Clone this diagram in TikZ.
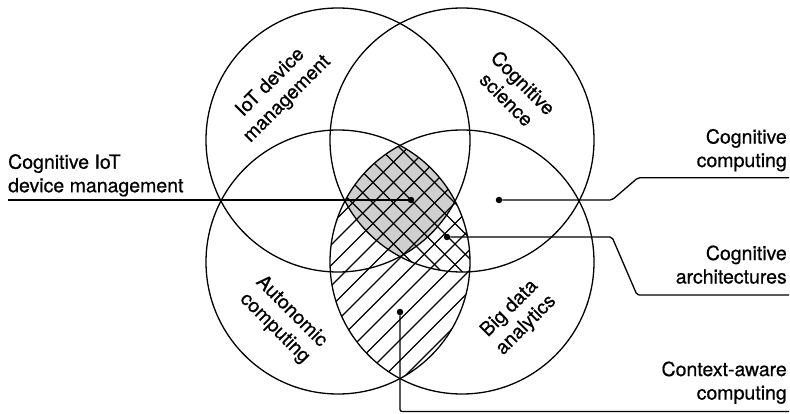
\documentclass[tikz,border=0pt]{standalone}
\usepackage{fontspec}
\setmainfont{TeX Gyre Heros}[FakeBold=0.6]
\begin{document}
\begin{tikzpicture}[x=1pt,y=1pt,
  ring/.style={line width=1.3pt},
  hatch/.style={line width=1.2pt},
  lead/.style={line width=1.3pt,rounded corners=2pt},
  dot/.style={circle,fill,inner sep=0pt,minimum size=6.5pt},
  tag/.style={font=\fontsize{19.5}{23.5}\selectfont,inner sep=0pt}]
\useasboundingbox (0,0) rectangle (790,413);
\def\rad{132}
\coordinate (tl) at (338,273);
\coordinate (tr) at (462,273);
\coordinate (bl) at (338,151);
\coordinate (br) at (462,151);

% grey core: inside all four
\begin{scope}
\clip (tl) circle (\rad);
\clip (tr) circle (\rad);
\clip (bl) circle (\rad);
\fill[black!19] (br) circle (\rad);
\end{scope}

% / lines: lower lens
\begin{scope}
\clip (bl) circle (\rad);
\clip (br) circle (\rad);
\foreach \k in {0,...,21}
  \draw[hatch] (40+\k*20.5,0) -- ++(420,420);
\end{scope}

% \ lines: three circles
\begin{scope}
\clip (tr) circle (\rad);
\clip (bl) circle (\rad);
\clip (br) circle (\rad);
\foreach \k in {0,...,15}
  \draw[hatch] (460+\k*20.5,0) -- ++(-420,420);
\end{scope}

\draw[ring] (tl) circle (\rad);
\draw[ring] (tr) circle (\rad);
\draw[ring] (bl) circle (\rad);
\draw[ring] (br) circle (\rad);

\node[tag,rotate=45,align=center] (iotLbl) at (279,322) {IoT device\\management};
\node[tag,rotate=-45,align=center] (sciLbl) at (515,322) {Cognitive\\science};
\node[tag,rotate=-45,align=center] (autoLbl) at (283,93) {Autonomic\\computing};
\node[tag,rotate=45,align=center] (bigLbl) at (518,96) {Big data\\analytics};

% leaders
\node[dot] (iot) at (411,213) {};
\node[dot] (comp) at (499,213) {};
\node[dot] (arch) at (447,176) {};
\node[dot] (ctx) at (400,101) {};
\coordinate (iotEnd) at (8,213);
\coordinate (compEnd) at (789,235.3);
\coordinate (archEnd) at (789,118);
\coordinate (ctxEnd) at (789,1.5);
\draw[lead] (iot) -- (iotEnd);
\draw[lead] (comp) -- (612,213) -- (638,235.3) -- (compEnd);
\draw[lead] (arch) -- (612,176) -- (637,118) -- (archEnd);
\draw[lead] (ctx) -- (400,1.5) -- (ctxEnd);

\node[tag,anchor=south west,align=left] (iotTag) at (8,216.3) {Cognitive IoT\\device management};
\node[tag,anchor=south east,align=right] (compTag) at (787,241.5) {Cognitive\\computing};
\node[tag,anchor=south east,align=right] (archTag) at (787,129) {Cognitive\\architectures};
\node[tag,anchor=south east,align=right] (ctxTag) at (787,9) {Context-aware\\computing};
\end{tikzpicture}
\end{document}
